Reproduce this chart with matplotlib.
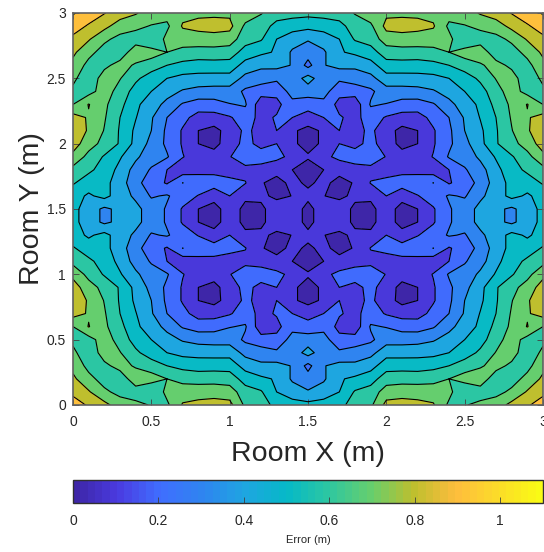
import numpy as np
import matplotlib
matplotlib.use("Agg")
import matplotlib.pyplot as plt
from matplotlib.cm import ScalarMappable
from matplotlib.colors import LinearSegmentedColormap, Normalize

plt.rcParams["font.family"] = ["Liberation Sans", "DejaVu Sans"]

# error on a 0.1 m grid, top-left quarter of the room (x 0..1.5, y 3.0..1.5)
row_00 = [1.01, .95, .905, .85, .81, .75, .74, .77, .78, .78, .78, .76, .705, .66, .64, .63]
row_01 = [.94, .89, .83, .75, .72, .695, .68, .81, .83, .84, .83, .68, .66, .56, .54, .53]
row_02 = [.88, .81, .72, .67, .66, .60, .73, .75, .755, .76, .75, .64, .61, .50, .45, .41]
row_03 = [.82, .73, .66, .65, .75, .745, .70, .67, .66, .66, .65, .56, .52, .49, .385, .34]
row_04 = [.77, .67, .68, .73, .69, .65, .60, .57, .555, .56, .56, .46, .42, .43, .395, .27]
row_05 = [.72, .64, .74, .705, .62, .55, .50, .47, .465, .46, .46, .37, .35, .32, .34, .44]
row_06 = [.68, .66, .75, .66, .56, .50, .44, .39, .365, .36, .36, .28, .24, .23, .34, .35]
row_07 = [.70, .805, .72, .63, .52, .45, .37, .29, .255, .26, .295, .31, .14, .17, .27, .24]
row_08 = [.84, .79, .71, .60, .505, .41, .30, .23, .16, .16, .19, .25, .17, .21, .20, .16]
row_09 = [.86, .79, .695, .59, .48, .40, .28, .19, .10, .07, .14, .22, .17, .20, .115, .07]
row_10 = [.85, .74, .67, .59, .47, .37, .28, .19, .10, .07, .15, .23, .17, .20, .115, .07]
row_11 = [.77, .67, .59, .51, .42, .34, .31, .205, .15, .14, .195, .26, .25, .23, .17, .11]
row_12 = [.67, .62, .56, .47, .36, .29, .20, .14, .16, .17, .17, .17, .16, .12, .10, .06]
row_13 = [.61, .55, .53, .45, .33, .25, .19, .301, .27, .25, .22, .205, .105, .08, .115, .09]
row_14 = [.54, .485, .53, .45, .38, .29, .31, .25, .195, .13, .20, .115, .12, .08, .102, .115]
row_15 = [.53, .45, .38, .425, .43, .35, .29, .19, .10, .07, .14, .08, .08, .15, .135, .08]

levels = [0, .1, .2, .3, .4, .5, .6, .7, .8, .9, 1.0, 1.1]
room_ticks = [0, .5, 1, 1.5, 2, 2.5, 3]
room_tick_labels = ["0", "0.5", "1", "1.5", "2", "2.5", "3"]
error_ticks = [0, .2, .4, .6, .8, 1]
error_tick_labels = ["0", "0.2", "0.4", "0.6", "0.8", "1"]

parula = LinearSegmentedColormap.from_list(
    "parula",
    [
        (0.0, (.2422, .1504, .6603)),
        (0.09, (.2900, .2300, .8800)),
        (0.18, (.2500, .4300, 1.000)),
        (0.273, (.1800, .5200, .9400)),
        (0.364, (.1200, .6500, .8800)),
        (0.455, (.0200, .7250, .7800)),
        (0.545, (.1800, .7800, .6300)),
        (0.636, (.4000, .8100, .4300)),
        (0.727, (.7400, .7500, .1800)),
        (0.82, (.9970, .7400, .2400)),
        (1.0, (.9769, .9839, .0805)),
    ],
    N=64,
)
norm = Normalize(0, 1.1)

quarter = np.array([row_00, row_01, row_02, row_03, row_04, row_05, row_06, row_07,
                    row_08, row_09, row_10, row_11, row_12, row_13, row_14, row_15])
# the room is mirrored around x=1.5 and around y=1.45
half = np.hstack([quarter, quarter[:, -2::-1]])
error = np.vstack([half, half[-1:0:-1]])
x = np.linspace(0, 3, error.shape[1])
y = np.linspace(3, 0, error.shape[0])

W, H = 544, 552
fig = plt.figure(figsize=(W / 100, H / 100), dpi=100)
ax = fig.add_axes([73 / W, 1 - 405 / H, 470 / W, 392 / H])
cax = fig.add_axes([73 / W, 1 - 503 / H, 470 / W, 23 / H])

band_colors = [parula(norm(v)) for v in levels[:-1]]
ax.contourf(x, y, error, levels=levels, colors=band_colors)
ax.contour(x, y, error, levels=levels[1:-1], colors="black", linewidths=0.8)

text_color = "#262626"
ax.set_xlim(0, 3)
ax.set_ylim(0, 3)
ax.set_xticks(room_ticks, room_tick_labels)
ax.set_yticks(room_ticks, room_tick_labels)
ax.tick_params(direction="in", top=True, right=True, length=4.5, width=0.6,
               labelsize=10, colors="#404040", labelcolor=text_color, pad=5)
ax.tick_params(axis="x", pad=7)
ax.set_xlabel("Room X (m)", fontsize=20.5, color=text_color, labelpad=9)
ax.set_ylabel("Room Y (m)", fontsize=20.5, color=text_color, labelpad=1)
for spine in ax.spines.values():
    spine.set_color("#606060")
    spine.set_linewidth(1.2)

cbar = fig.colorbar(ScalarMappable(norm=norm, cmap=parula), cax=cax, orientation="horizontal")
cbar.set_ticks(error_ticks, labels=error_tick_labels)
cbar.ax.tick_params(direction="in", length=4.5, width=0.6, labelsize=10,
                    colors="#404040", labelcolor=text_color, pad=8)
cbar.set_label("Error (m)", fontsize=8, color=text_color, labelpad=5)
cbar.outline.set_edgecolor("#303030")
cbar.outline.set_linewidth(1.0)

fig.savefig("out.png", dpi=100)
plt.close(fig)
